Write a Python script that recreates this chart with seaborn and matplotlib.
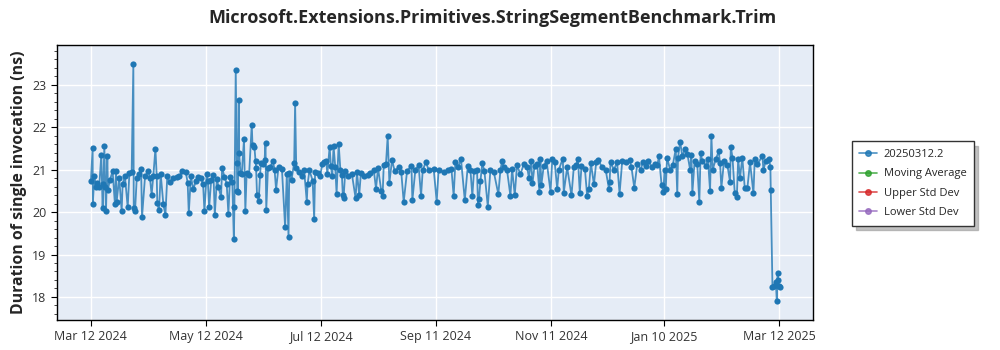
import pandas as pd
import matplotlib
matplotlib.use("Agg")
import matplotlib.pyplot as plt
import matplotlib.dates as mdates
from matplotlib.lines import Line2D
from matplotlib.ticker import MultipleLocator
import seaborn as sns

# run data (days counted from the first run)
start_date = "2024-03-12"
run_day = [
    0.0, 0.9, 1.0, 1.8, 2.7, 3.4, 4.4, 5.5, 6.2, 6.6, 7.1, 7.6, 8.0, 8.7, 9.0, 10.1,
    11.5, 12.7, 13.3, 13.6, 15.0, 16.3, 16.8, 18.0, 19.5, 20.4, 21.6, 22.5, 22.7, 23.4,
    24.3, 25.5, 26.6, 27.1, 28.7, 30.4, 31.3, 32.2, 33.1, 34.2, 34.9, 35.2, 36.1, 37.0,
    38.4, 39.5, 40.5, 41.9, 43.7, 45.5, 46.9,
    48.5, 50.3, 51.3, 51.9, 53.0, 54.3, 55.6, 57.0, 58.4, 59.5, 60.2, 61.4, 62.0, 62.7,
    63.8, 65.0, 65.7, 66.8, 67.6, 69.0, 69.6, 70.8, 72.0, 72.9, 73.8, 75.0, 75.8, 76.1,
    76.8, 77.4, 77.6, 78.0, 78.4, 78.6, 79.3, 80.0, 81.2, 81.9, 82.6, 83.9, 85.3, 85.7,
    86.7, 87.3, 87.6, 88.1, 89.0, 89.7, 90.2, 91.2, 92.1, 92.6, 93.0, 93.9, 95.1, 96.5,
    97.4, 98.2, 99.5, 101.3, 103.0, 103.9, 104.8, 105.2, 106.4, 107.8, 108.3, 108.9,
    110.1, 111.9, 113.1, 114.5, 114.9, 115.9, 117.6, 118.4, 118.9, 120.2, 121.6, 122.7,
    123.7, 124.8, 125.4, 126.6, 127.3, 128.0, 128.7, 129.6, 130.3, 131.4, 132.3, 133.1,
    133.6, 134.0, 134.9, 136.6, 138.4, 140.4, 141.1, 142.3, 143.2, 145.0, 146.8,
    148.2, 150.0, 151.2, 152.3, 154.0, 154.7, 155.3, 156.5, 157.4, 158.3, 159.7, 161.1,
    163.2, 164.6, 165.9, 167.7, 170.0, 170.5, 172.1, 173.8, 175.1, 176.0, 177.7, 179.1,
    181.8, 183.4, 184.4, 187.1, 189.4, 191.2, 192.4, 193.3, 194.7, 196.3, 198.3,
    199.9, 201.3, 202.3, 203.2, 204.8, 205.3, 205.8, 206.6, 207.6, 208.7, 210.5, 211.9,
    213.7, 216.1, 217.2, 218.1, 219.0, 220.7, 222.5, 223.4, 224.8, 226.0, 227.8, 229.6,
    231.4, 232.3, 233.5, 234.2, 235.3, 236.7, 237.9, 238.4, 238.9, 240.2, 241.7, 243.8,
    244.7, 246.0, 247.3,
    248.2, 250.3, 250.8, 252.6, 254.9, 256.1, 257.4, 258.3, 259.3, 260.2, 262.0, 263.2,
    264.1, 265.2, 266.8, 268.0, 269.1, 271.2, 273.0, 274.8, 275.1, 275.6, 277.4, 279.1,
    280.4, 281.8, 283.6, 285.7, 286.7, 288.2, 289.8, 291.6, 292.8, 294.2, 295.6, 297.8,
    299.2, 300.4, 301.3, 302.7, 303.6, 304.3, 304.9, 305.6, 307.2, 308.6, 310.2, 311.0,
    311.4, 312.5, 313.7, 315.1, 316.4, 317.8, 318.5, 319.0, 320.2, 321.6, 322.7, 323.4,
    324.3, 326.1, 327.3, 328.4, 329.1, 329.8, 331.4, 333.0, 333.7, 334.4, 335.8, 337.6,
    339.0, 339.4, 340.3, 341.5, 342.6, 343.3, 344.3, 345.5, 346.8, 348.2, 349.6,
    351.4, 352.1, 353.5, 356.2, 356.7, 357.9, 359.7, 360.4, 360.6, 361.5, 362.4, 363.3,
    363.8, 364.2, 364.5, 365.0, 365.5,
]
duration_ns = [
    20.74, 21.51, 20.20, 20.84, 20.60, 20.68, 20.60, 21.35, 20.09, 20.65, 21.55, 20.60, 20.03, 21.33, 20.53, 20.76,
    20.96, 20.20, 20.96, 20.23, 20.80, 20.02, 20.65, 20.86, 20.11, 20.92, 20.94, 23.48, 20.09, 20.03,
    20.80, 20.90, 21.02, 19.88, 20.84, 20.96, 20.80, 20.41, 20.86, 21.49, 20.84, 20.21, 20.04, 20.90,
    20.19, 19.93, 20.84, 20.70, 20.80, 20.83, 20.84,
    20.96, 20.94, 20.69, 19.97, 20.84, 20.54, 20.72, 20.83, 20.80, 20.65, 20.02, 20.90, 20.74, 20.11,
    20.76, 20.88, 19.93, 20.78, 20.60, 20.35, 21.04, 20.83, 20.67, 19.96, 20.83, 20.70, 19.36, 20.11,
    23.34, 21.16, 20.49, 20.47, 22.64, 21.39, 20.92, 20.90, 21.72, 20.02, 20.92, 20.88, 22.06, 21.57,
    21.54, 21.20, 21.04, 20.39, 20.27, 20.88, 21.16, 21.12, 21.22, 21.63, 20.05, 21.04, 21.06, 21.20,
    21.00, 20.53, 21.06, 21.02, 19.64, 20.90, 19.41, 20.92, 20.76, 21.16, 22.56, 21.04,
    20.94, 20.86, 20.98, 20.24, 20.65, 20.98, 20.74, 19.83, 20.94, 20.92, 20.86, 21.12,
    21.17, 21.20, 20.90, 21.53, 21.08, 20.84, 21.55, 21.06, 20.43, 21.61, 21.00, 20.88,
    20.39, 20.33, 20.96, 20.86, 20.90, 20.32, 20.94, 20.40, 20.92, 20.84, 20.88,
    20.91, 21.00, 20.55, 21.03, 20.50, 20.38, 21.10, 21.14, 21.78, 20.69, 21.22, 20.97,
    21.05, 20.94, 20.24, 20.97, 21.09, 20.28, 21.00, 21.10, 20.38, 20.99, 21.18, 20.99,
    21.02, 20.24, 20.99, 20.94, 20.99, 21.02, 20.38, 21.17, 21.05, 21.24, 20.28,
    21.09, 20.99, 20.38, 20.97, 21.00, 20.17, 20.31, 20.73, 21.15, 20.97, 20.13, 21.00,
    20.94, 20.42, 20.99, 21.20, 21.05, 20.99, 20.38, 21.02, 20.40, 21.10, 20.89, 21.13,
    21.05, 20.81, 21.20, 20.68, 21.09, 21.13, 20.47, 21.26, 20.64, 21.09, 21.20, 20.47,
    21.24, 21.17, 20.55,
    21.00, 21.26, 20.46, 21.05, 20.39, 21.05, 21.10, 21.26, 20.46, 21.09, 21.02, 20.38,
    20.55, 21.15, 20.65, 21.17, 21.22, 21.05, 21.00, 20.54, 20.71, 21.17, 21.00, 21.17,
    20.43, 21.20, 21.18, 21.23, 21.06, 20.57, 21.13, 21.00, 21.18, 21.09, 21.20, 21.05,
    21.13, 21.10, 21.31, 20.63, 20.47, 21.00, 20.55, 21.28, 21.00, 21.10, 21.48, 20.42,
    21.28, 21.66, 21.31, 21.48, 21.36, 21.00, 21.34, 20.44, 21.20, 21.13, 20.24, 21.39,
    21.20, 21.09, 21.24, 20.50, 21.80, 21.00, 21.24, 21.43, 21.15, 20.57, 21.20, 21.10,
    20.71, 21.54, 21.28, 20.44, 20.36, 21.24, 20.81, 21.28, 20.57, 20.57, 21.17,
    20.44, 21.24, 21.13, 21.32, 20.99, 21.20, 21.26, 21.05, 20.51, 18.24, 18.27, 18.35,
    17.90, 18.57, 18.41, 18.25, 18.24,
]
tick_dates = ["2024-03-12", "2024-05-12", "2024-07-12", "2024-09-11",
              "2024-11-11", "2025-01-10", "2025-03-12"]
legend_labels = ["20250312.2", "Moving Average", "Upper Std Dev", "Lower Std Dev"]
legend_colors = ["#1f77b4", "#2ca02c", "#d62728", "#9467bd"]

df = pd.DataFrame({
    "date": pd.Timestamp(start_date) + pd.to_timedelta(run_day, unit="D"),
    "duration": duration_ns,
})

sns.set_style("white")
plt.rcParams["font.family"] = ["Open Sans", "DejaVu Sans"]

fig = plt.figure(figsize=(10, 3.5), dpi=100)
ax = fig.add_axes([0.057, 0.086, 0.756, 0.785])
ax.set_facecolor("#e5ecf6")

sns.lineplot(data=df, x="date", y="duration", estimator=None, sort=False,
             color="#1f77b4", linewidth=1.3, alpha=0.8, ax=ax)
sns.scatterplot(data=df, x="date", y="duration", color="#1f77b4", s=20,
                linewidth=0, ax=ax, zorder=3)

ax.set_xlim(pd.Timestamp("2024-02-23"), pd.Timestamp("2025-03-30"))
ax.set_ylim(17.46, 23.93)
ax.set_xticks(pd.to_datetime(tick_dates))
ax.xaxis.set_major_formatter(mdates.DateFormatter("%b %d %Y"))
ax.yaxis.set_major_locator(MultipleLocator(1))
ax.yaxis.set_minor_locator(MultipleLocator(0.2))
ax.grid(True, which="major", color="white", linewidth=1)
ax.set_axisbelow(True)
for s in ax.spines.values():
    s.set_color("black")
    s.set_linewidth(1)
ax.tick_params(axis="both", which="major", direction="out", length=4, width=0.8,
               labelsize=9, colors="black", labelcolor="#333333", left=True, bottom=True)
ax.tick_params(axis="y", which="minor", direction="out", length=2, width=0.6, left=True)

ax.set_xlabel("")
ax.set_ylabel("Duration of single invocation (ns)", fontsize=11.4, fontweight="bold")
fig.suptitle("Microsoft.Extensions.Primitives.StringSegmentBenchmark.Trim",
             x=0.492, y=0.975, fontsize=13, fontweight="bold")

handles = [Line2D([], [], color=c, marker="o", markersize=4, linewidth=1.2, alpha=0.8)
           for c in legend_colors]
leg = fig.legend(handles, legend_labels, loc="upper left", bbox_to_anchor=(0.846, 0.612),
                 fontsize=8, frameon=True, fancybox=False,
                 shadow={"ox": 3, "oy": -3, "color": "0.6", "alpha": 0.6},
                 handlelength=1.6, handletextpad=0.6, borderpad=0.7, labelspacing=0.75)
leg.get_frame().set_edgecolor("#333333")
leg.get_frame().set_linewidth(1)

fig.savefig("out.png", dpi=100)
